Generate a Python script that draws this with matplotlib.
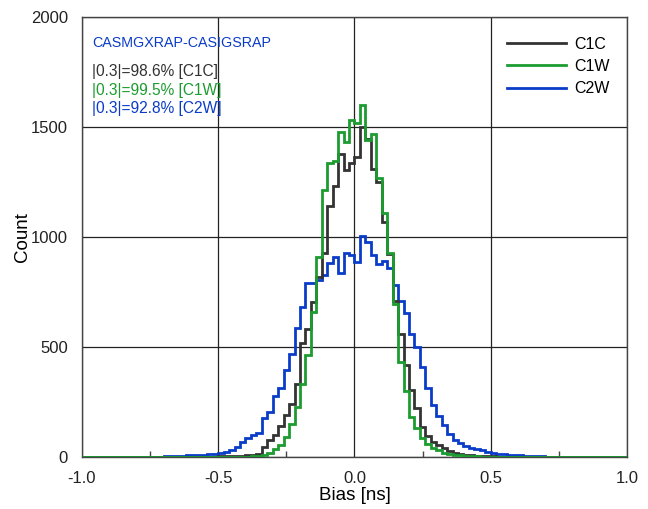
import numpy as np
import matplotlib
matplotlib.use('Agg')
import matplotlib.pyplot as plt
from matplotlib.ticker import MultipleLocator, FormatStrFormatter

plt.rcParams['font.family'] = ['Liberation Sans', 'DejaVu Sans']

# bin edges of the bias histogram, 0.02 ns wide from -1 to 1
edges = np.linspace(-1.0, 1.0, 101)

# counts per bin, rows of ten bins: -1.0..-0.8, -0.8..-0.6, ... 0.8..1.0
c1c = [0, 0, 0, 0, 0, 0, 0, 0, 0, 0,
       0, 0, 0, 0, 0, 0, 0, 0, 1, 1,
       1, 1, 2, 2, 2, 3, 3, 4, 5, 6,
       8, 10, 14, 47, 77, 100, 143, 191, 243, 332,
       520, 580, 706, 820, 929, 1141, 1234, 1375, 1306, 1337,
       1362, 1502, 1444, 1310, 1250, 1070, 923, 711, 558, 420,
       305, 221, 137, 97, 70, 56, 40, 28, 20, 15,
       10, 9, 6, 5, 4, 3, 2, 2, 1, 1,
       1, 1, 0, 0, 0, 0, 0, 0, 0, 0,
       0, 0, 0, 0, 0, 0, 0, 0, 0, 0]

c1w = [0, 0, 0, 0, 0, 0, 0, 0, 0, 0,
       0, 0, 0, 0, 0, 0, 0, 0, 0, 0,
       0, 0, 0, 0, 0, 1, 1, 1, 1, 2,
       2, 3, 5, 8, 20, 36, 55, 90, 152, 229,
       332, 464, 660, 910, 1215, 1338, 1347, 1479, 1430, 1532,
       1518, 1602, 1442, 1467, 1267, 1108, 929, 694, 430, 300,
       180, 130, 85, 58, 40, 30, 20, 13, 10, 7,
       5, 4, 3, 2, 2, 1, 1, 0, 0, 0,
       0, 0, 0, 0, 0, 0, 0, 0, 0, 0,
       0, 0, 0, 0, 0, 0, 0, 0, 0, 0]

c2w = [0, 0, 0, 0, 0, 0, 0, 0, 0, 0,
       0, 1, 1, 2, 2, 3, 3, 4, 6, 8,
       9, 9, 11, 13, 14, 18, 23, 30, 45, 68,
       85, 100, 108, 178, 206, 276, 314, 397, 470, 585,
       680, 792, 792, 805, 827, 880, 910, 838, 929, 918,
       888, 1005, 979, 918, 877, 892, 858, 782, 711, 655,
       560, 501, 411, 315, 236, 187, 145, 103, 77, 62,
       52, 43, 36, 30, 24, 17, 14, 12, 9, 8,
       7, 5, 5, 4, 3, 2, 2, 1, 1, 0,
       0, 0, 0, 0, 0, 0, 0, 0, 0, 0]

labels = ['C1C', 'C1W', 'C2W']
colors = ['#333333', '#1c9c30', '#0a3cc8']
title = 'CASMGXRAP-CASIGSRAP'
stats = ['|0.3|=98.6% [C1C]', '|0.3|=99.5% [C1W]', '|0.3|=92.8% [C2W]']

fig = plt.figure(figsize=(6.48, 5.09), dpi=100)
ax = fig.add_axes([0.1265, 0.1022, 0.841, 0.8644])

h_c2w = ax.stairs(c2w, edges, color=colors[2], lw=2, zorder=3)
h_c1c = ax.stairs(c1c, edges, color=colors[0], lw=2, zorder=4)
h_c1w = ax.stairs(c1w, edges, color=colors[1], lw=2, zorder=5)

ax.set_xlim(-1, 1)
ax.set_ylim(0, 2000)
ax.xaxis.set_major_locator(MultipleLocator(0.5))
ax.xaxis.set_minor_locator(MultipleLocator(0.25))
ax.yaxis.set_major_locator(MultipleLocator(500))
ax.xaxis.set_major_formatter(FormatStrFormatter('%.1f'))
ax.grid(True, which='major', color='#222222', lw=0.9)
ax.tick_params(axis='both', which='major', length=0, labelsize=12, colors='#222222')
ax.tick_params(axis='x', which='major', pad=10)
ax.tick_params(axis='y', which='major', pad=10)
ax.tick_params(axis='x', which='minor', direction='in', length=4, width=1, color='#444444')
for s in ax.spines.values():
    s.set_color('#444444')
    s.set_linewidth(1)

ax.set_xlabel('Bias [ns]', fontsize=13.5, labelpad=1)
ax.set_ylabel('Count', fontsize=13.5, labelpad=0)

ax.text(0.018, 0.941, title, transform=ax.transAxes, color=colors[2],
        fontsize=10.3, va='center', ha='left')
for k, s in enumerate(stats):
    ax.text(0.018, 0.875 - 0.041 * k, s, transform=ax.transAxes, color=colors[k],
            fontsize=11.2, va='center', ha='left')

ax.legend([h_c1c, h_c1w, h_c2w], labels, loc='upper left', bbox_to_anchor=(0.779, 0.955),
          frameon=False, fontsize=11.5, handlelength=3.7, handletextpad=0.55,
          labelspacing=0.45, borderpad=0, borderaxespad=0)

fig.savefig('out.png', dpi=100)
